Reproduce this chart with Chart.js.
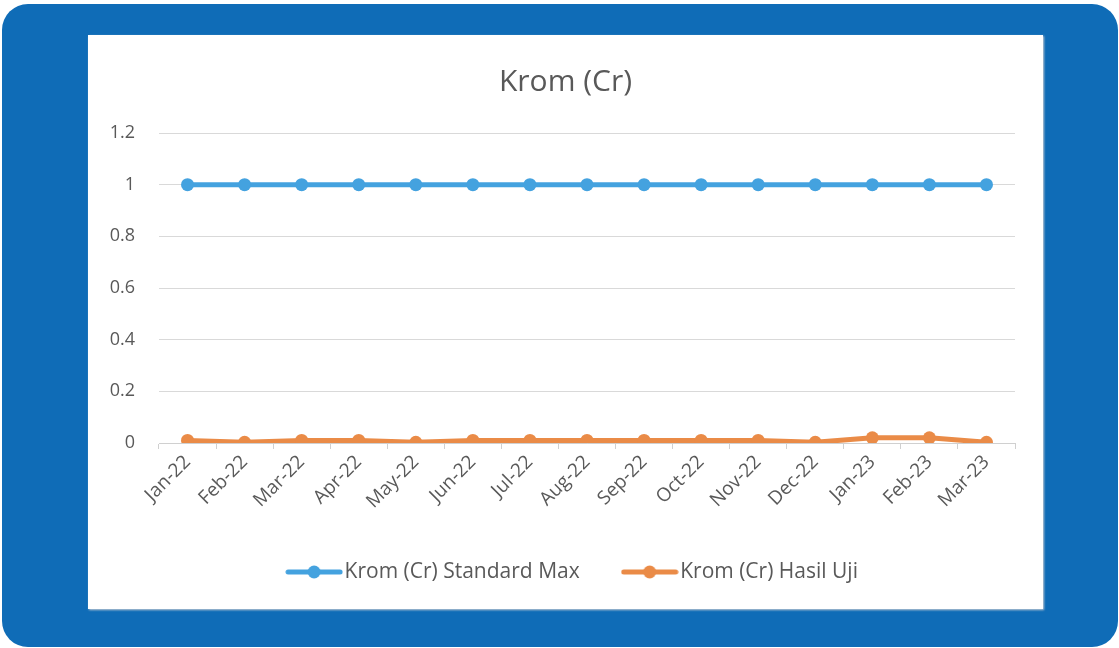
<!DOCTYPE html>
<html>
<head>
<meta charset="utf-8">
<script src="https://cdn.jsdelivr.net/npm/chart.js@4"></script>
<style>
  html, body { margin: 0; padding: 0; background: #fff; }
  #bg {
    position: absolute; left: 2px; top: 4px; width: 1116px; height: 643px;
    background: #0f6cb7; border-radius: 26px;
  }
  #panel {
    position: absolute; left: 88px; top: 35px; width: 955px; height: 574px;
    background: #fff; box-shadow: 1px 1px 2px #c8ccd4;
  }
  canvas { display: block; }
</style>
</head>
<body>
<div id="bg"></div>
<div id="panel"><canvas id="kromChart" width="955" height="574"></canvas></div>
<script>
const bulan = ['Jan-22', 'Feb-22', 'Mar-22', 'Apr-22', 'May-22', 'Jun-22', 'Jul-22', 'Aug-22',
               'Sep-22', 'Oct-22', 'Nov-22', 'Dec-22', 'Jan-23', 'Feb-23', 'Mar-23'];
const standardMax = [1, 1, 1, 1, 1, 1, 1, 1, 1, 1, 1, 1, 1, 1, 1];
const hasilUji = [0.01, 0.003, 0.01, 0.01, 0.003, 0.01, 0.01, 0.01, 0.01, 0.01, 0.01, 0.003, 0.02, 0.02, 0.003];

const biru = '#44a2df';
const oranye = '#ea8b47';
const teks = '#595959';
const fontName = '"Open Sans", Lato, sans-serif';

// ikon legenda: garis dengan bulatan di tengah (gaya Excel)
function legendIcon(color) {
  const c = document.createElement('canvas');
  c.width = 58; c.height = 16;
  const g = c.getContext('2d');
  g.strokeStyle = color;
  g.lineWidth = 5;
  g.lineCap = 'round';
  g.beginPath(); g.moveTo(3, 8); g.lineTo(55, 8); g.stroke();
  g.fillStyle = color;
  g.beginPath(); g.arc(29, 8, 6.5, 0, Math.PI * 2); g.fill();
  return c;
}

// geser judul & legenda sedikit ke kanan supaya posisinya sama dengan Excel
const geserKotak = {
  id: 'geserKotak',
  afterLayout(chart) {
    const geser = [[chart.legend, 24.5], [chart.titleBlock, 14]];
    geser.forEach(([box, dx]) => {
      if (!box) return;
      box.left += dx;
      box.right += dx;
    });
  }
};

const ctx = document.getElementById('kromChart');

const data = {
  labels: bulan,
  datasets: [{
    label: 'Krom (Cr) Standard Max',
    data: standardMax,
    borderColor: biru,
    backgroundColor: biru,
    borderWidth: 5,
    pointRadius: 6.5,
    pointHoverRadius: 6.5,
    pointBorderWidth: 0
  }, {
    label: 'Krom (Cr) Hasil Uji',
    data: hasilUji,
    borderColor: oranye,
    backgroundColor: oranye,
    borderWidth: 5,
    pointRadius: 6.5,
    pointHoverRadius: 6.5,
    pointBorderWidth: 0
  }]
};

const grafik = new Chart(ctx, {
  type: 'line',
  data: data,
  plugins: [geserKotak],
  options: {
    responsive: false,
    animation: false,
    layout: { padding: { left: 0, right: 28, top: 0, bottom: 16.5 } },
    plugins: {
      title: {
        display: true,
        text: 'Krom (Cr)',
        color: teks,
        font: { family: fontName, size: 30, weight: 'normal' },
        padding: { top: 29, bottom: 33 }
      },
      legend: {
        display: true,
        position: 'bottom',
        labels: {
          usePointStyle: true,
          pointStyleWidth: 40,   // ikon 58px digambar di tengah kotak ini
          color: teks,
          padding: 50,
          font: { family: fontName, size: 21 },
          generateLabels: (chart) => chart.data.datasets.map((ds, i) => ({
            text: ds.label,
            fontColor: teks,
            pointStyle: legendIcon(ds.borderColor),
            datasetIndex: i,
            hidden: false,
            lineWidth: 0
          }))
        }
      },
      tooltip: { enabled: false }
    },
    scales: {
      x: {
        offset: true,
        grid: { drawOnChartArea: false, drawTicks: true, tickLength: 6, color: '#d0d0d0', offset: true },
        border: { display: true, color: '#d0d0d0' },
        ticks: {
          color: teks, minRotation: 45, maxRotation: 45, padding: 2,
          font: { family: fontName, size: 19 }
        },
        afterFit: (scale) => { scale.height = 68.5; }
      },
      y: {
        min: 0, max: 1.2,
        grid: { color: '#d9d9d9', drawTicks: false },
        border: { display: false },
        ticks: {
          stepSize: 0.2, color: teks, padding: 24,
          font: { family: fontName, size: 18 },
          callback: (v) => String(Number(v.toFixed(1)))
        },
        afterFit: (scale) => { scale.width = 71; }
      }
    }
  }
});
</script>
</body>
</html>
